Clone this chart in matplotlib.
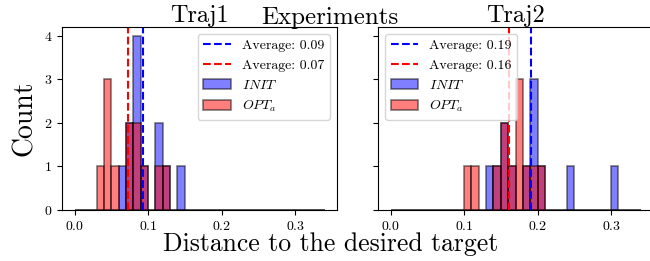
import numpy as np
import matplotlib
matplotlib.use("Agg")
import matplotlib.pyplot as plt

plt.rcParams["font.family"] = "serif"
plt.rcParams["font.serif"] = ["cmr10"]
plt.rcParams["mathtext.fontset"] = "cm"
plt.rcParams["axes.formatter.use_mathtext"] = True

# distances to the desired target
init_traj1 = [0.064, 0.072, 0.074, 0.081, 0.082, 0.083, 0.085, 0.093, 0.112, 0.113, 0.122, 0.142]
opt_traj1 = [0.035, 0.042, 0.045, 0.048, 0.055, 0.074, 0.076, 0.083, 0.086, 0.094, 0.115, 0.124]
init_traj2 = [0.136, 0.145, 0.153, 0.157, 0.165, 0.186, 0.193, 0.195, 0.198, 0.205, 0.249, 0.308]
opt_traj2 = [0.104, 0.113, 0.144, 0.152, 0.155, 0.163, 0.172, 0.174, 0.176, 0.183, 0.194, 0.206]

titles = ["Traj1", "Traj2"]
bins = np.arange(0, 0.35, 0.01)

fig = plt.figure(figsize=(6.5, 2.61), dpi=100)
ax1 = fig.add_axes([62/650, 1-210/261, 275/650, 183/261])
ax2 = fig.add_axes([378/650, 1-210/261, 275/650, 183/261], sharey=ax1)

for ax, init, opt, title, loc in [(ax1, init_traj1, opt_traj1, titles[0], "upper right"),
                                   (ax2, init_traj2, opt_traj2, titles[1], "upper left")]:
    m_init = np.mean(init)
    m_opt = np.mean(opt)
    ax.axvline(m_init, color="b", ls="--", lw=1.5, label="Average: %.2f" % m_init)
    ax.axvline(m_opt, color="r", ls="--", lw=1.5, label="Average: %.2f" % m_opt)
    ax.hist(init, bins=bins, color="b", alpha=0.5, edgecolor="k", lw=1.2, label="$INIT$")
    ax.hist(opt, bins=bins, color="r", alpha=0.5, edgecolor="k", lw=1.2, label="$OPT_a$")
    ax.set_title(title, fontsize=17.5, pad=1)
    ax.set_xticks([0.0, 0.1, 0.2, 0.3])
    ax.set_yticks([0, 1, 2, 3, 4])
    ax.tick_params(labelsize=10)
    ax.legend(loc=loc, fontsize=10)

ax2.tick_params(labelleft=False)
ax1.set_ylabel("Count", fontsize=20)

fig.text(0.508, 0.975, "Experiments", ha="center", va="top", fontsize=18)
fig.text(0.508, 0.02, "Distance to the desired target", ha="center", va="bottom", fontsize=18.5)

fig.savefig("out.png", dpi=100)
plt.close()
